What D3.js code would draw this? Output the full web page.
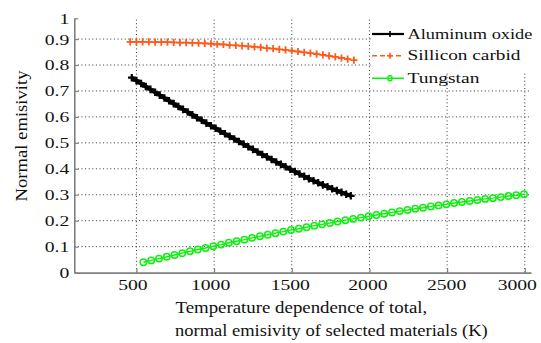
<!DOCTYPE html>
<html><head><meta charset="utf-8">
<script src="https://cdn.jsdelivr.net/npm/d3@7"></script>
<style>
body{margin:0;background:#fff}
svg{display:block}
svg text{font-family:"Liberation Serif","Tinos","Times New Roman","DejaVu Serif",serif !important;fill:#111}
</style></head>
<body><svg id="c" width="541" height="343"></svg>
<script>
// ---- data ----
const xTicks = [500, 1000, 1500, 2000, 2500, 3000];
const yTicks = [0, 0.1, 0.2, 0.3, 0.4, 0.5, 0.6, 0.7, 0.8, 0.9, 1];
const yTickLabels = ["0", "0.1", "0.2", "0.3", "0.4", "0.5", "0.6", "0.7", "0.8", "0.9", "1"];
const seriesNames = ["Aluminum oxide", "Sillicon carbid", "Tungstan"];

const aluminumT = [470,500,530,560,590,620,650,680,710,740,770,800,830,860,890,920,950,980,1010,1040,1070,1100,1130,1160,1190,1220,1250,1280,1310,1340,1370,1400,1430,1460,1490,1520,1550,1580,1610,1640,1670,1700,1730,1760,1790,1820,1850,1880];
const aluminumV = [0.751,0.740,0.729,0.717,0.706,0.695,0.684,0.673,0.662,0.651,0.640,0.629,0.619,0.608,0.597,0.587,0.576,0.566,0.556,0.545,0.535,0.525,0.515,0.505,0.495,0.485,0.475,0.465,0.455,0.446,0.436,0.426,0.417,0.408,0.398,0.389,0.380,0.371,0.362,0.354,0.346,0.338,0.331,0.323,0.316,0.309,0.302,0.296];

const siliconT = [460,500,540,580,620,660,700,740,780,820,860,900,940,980,1020,1060,1100,1140,1180,1220,1260,1300,1340,1380,1420,1460,1500,1540,1580,1620,1660,1700,1740,1780,1820,1860,1900];
const siliconV = [0.889,0.889,0.889,0.889,0.888,0.888,0.888,0.887,0.886,0.886,0.885,0.884,0.883,0.882,0.880,0.879,0.877,0.876,0.874,0.872,0.870,0.868,0.865,0.863,0.860,0.858,0.855,0.852,0.849,0.846,0.842,0.839,0.835,0.831,0.827,0.823,0.819];

const tungstenT = [545,595,645,695,745,795,845,895,945,995,1045,1095,1145,1195,1245,1295,1345,1395,1445,1495,1545,1595,1645,1695,1745,1795,1845,1895,1945,1995,2045,2095,2145,2195,2245,2295,2345,2395,2445,2495,2545,2595,2645,2695,2745,2795,2845,2895,2945,2995];
const tungstenV = [0.040,0.047,0.054,0.061,0.068,0.075,0.082,0.089,0.095,0.102,0.108,0.115,0.121,0.127,0.134,0.140,0.146,0.152,0.158,0.164,0.169,0.175,0.181,0.186,0.191,0.197,0.202,0.207,0.212,0.217,0.222,0.227,0.232,0.237,0.241,0.246,0.250,0.255,0.259,0.263,0.268,0.272,0.276,0.280,0.284,0.287,0.291,0.295,0.298,0.302];

// ---- chart ----
const FONT = '"Liberation Serif","Tinos","Times New Roman","DejaVu Serif",serif';
const svg = d3.select("#c");
const x = d3.scaleLinear().domain([100, 3040]).range([74.3, 531]);
const y = d3.scaleLinear().domain([0, 0.98]).range([272.6, 18.3]).clamp(true);
const [xl, xr] = x.range();
const yTop = y.range()[1];

function stretch(sel, base, target) {
  const w = sel.node().getComputedTextLength();
  const k = w > 0 ? target / w : 1;
  sel.attr("transform", `${base} scale(${k},1)`);
  return k;
}

// grid
const grid = svg.append("g").attr("stroke", "#333").attr("stroke-width", 1).attr("stroke-dasharray", "1,2.6");
grid.selectAll("line.v").data(xTicks).join("line").attr("class","v")
  .attr("x1", d => x(d)).attr("x2", d => x(d)).attr("y1", y(0)).attr("y2", yTop);
grid.selectAll("line.h").data(yTicks.filter(d => d > 0 && d < 0.98)).join("line").attr("class","h")
  .attr("x1", xl).attr("x2", xr).attr("y1", d => y(d)).attr("y2", d => y(d));

// axes
const gx = svg.append("g").attr("transform", `translate(0,${y(0)})`)
  .call(d3.axisBottom(x).tickValues(xTicks).tickSizeInner(-4).tickSizeOuter(0).tickPadding(6).tickFormat(d3.format("d")));
const gy = svg.append("g").attr("transform", `translate(${xl},0)`)
  .call(d3.axisLeft(y).tickValues(yTicks).tickFormat((d, i) => yTickLabels[i]).tickSizeInner(-4).tickSizeOuter(0).tickPadding(5));
[gx, gy].forEach(g => {
  g.attr("font-family", FONT);
  g.select(".domain").attr("stroke", "#808080").attr("stroke-width", 1.6);
  g.selectAll(".tick line").attr("stroke", "#808080").attr("stroke-width", 1.2);
  g.selectAll(".tick text").attr("font-size", 15.5).attr("fill", "#111");
});
const t500 = gx.selectAll(".tick text").filter(d => d === 500);
const kTick = t500.node().getComputedTextLength() > 0 ? 29.5 / t500.node().getComputedTextLength() : 1;
const xShift = {500: -4, 1000: -4, 1500: -2, 2000: -2, 2500: -1, 3000: -8};
gx.selectAll(".tick text").attr("transform", d => `translate(${xShift[d]},0) scale(${kTick},1)`);
gy.selectAll(".tick text").attr("x", -5 / kTick).attr("transform", `scale(${kTick},1)`);

// series
const line = d3.line().x(d => x(d[0])).y(d => y(d[1]));
const plus = s => `M${-s},0H${s}M0,${-s}V${s}`;
const series = [
  {T: aluminumT, V: aluminumV, color: "#000", width: 4, lw: 2.2, dash: null, marker: "plus", ms: 3.8, mw: 2.2},
  {T: siliconT, V: siliconV, color: "#ff5a1c", width: 1.6, lw: 1.5, dash: "5,3", marker: "plus", ms: 3.6, mw: 1.8},
  {T: tungstenT, V: tungstenV, color: "#10ee10", width: 1.4, lw: 1.6, dash: null, marker: "circle", ms: 3.2, mw: 1.5}
];
series.forEach(s => {
  const pts = s.T.map((t, i) => [t, s.V[i]]);
  svg.append("path").datum(pts).attr("d", line).attr("fill", "none")
    .attr("stroke", s.color).attr("stroke-width", s.width).attr("stroke-dasharray", s.dash);
  const mg = svg.append("g");
  if (s.marker === "plus") {
    mg.selectAll("path").data(pts).join("path")
      .attr("transform", d => `translate(${x(d[0])},${y(d[1])})`)
      .attr("d", plus(s.ms)).attr("stroke", s.color).attr("stroke-width", s.mw).attr("fill", "none");
  } else {
    mg.selectAll("circle").data(pts).join("circle")
      .attr("cx", d => x(d[0])).attr("cy", d => y(d[1])).attr("r", s.ms)
      .attr("stroke", s.color).attr("stroke-width", s.mw).attr("fill", "none");
  }
});

// legend
const leg = svg.append("g").attr("font-family", FONT);
leg.append("rect").attr("x", 371).attr("y", 0).attr("width", 170).attr("height", 72).attr("fill", "#fff");
const legY = [34, 55.7, 78.3];
const legTargets = [125, 113, 72];
series.forEach((s, i) => {
  const ly = legY[i];
  leg.append("line").attr("x1", 372).attr("x2", 404).attr("y1", ly).attr("y2", ly)
    .attr("stroke", s.color).attr("stroke-width", s.lw).attr("stroke-dasharray", s.dash);
  if (s.marker === "plus") {
    leg.append("path").attr("transform", `translate(390,${ly})`).attr("d", plus(3)).attr("stroke", s.color).attr("stroke-width", 1.6);
  } else {
    leg.append("rect").attr("x", 388).attr("y", ly - 2.5).attr("width", 4).attr("height", 5).attr("rx", 1.5)
      .attr("fill", "none").attr("stroke", s.color).attr("stroke-width", 1.4);
  }
  const t = leg.append("text").attr("font-size", 15.5).text(seriesNames[i]);
  stretch(t, `translate(407.5,${ly + 4.5})`, legTargets[i]);
});

// axis titles
const ty = svg.append("text").attr("font-family", FONT).attr("text-anchor", "middle").attr("font-size", 16).text("Normal emisivity");
stretch(ty, "translate(26.5,136) rotate(-90)", 131);
const t1 = svg.append("text").attr("font-family", FONT).attr("font-size", 16).text("Temperature dependence of total,");
stretch(t1, "translate(175.5,313)", 252);
const t2 = svg.append("text").attr("font-family", FONT).attr("font-size", 16).text("normal emisivity of selected materials (K)");
stretch(t2, "translate(175,336)", 313);
</script></body></html>
